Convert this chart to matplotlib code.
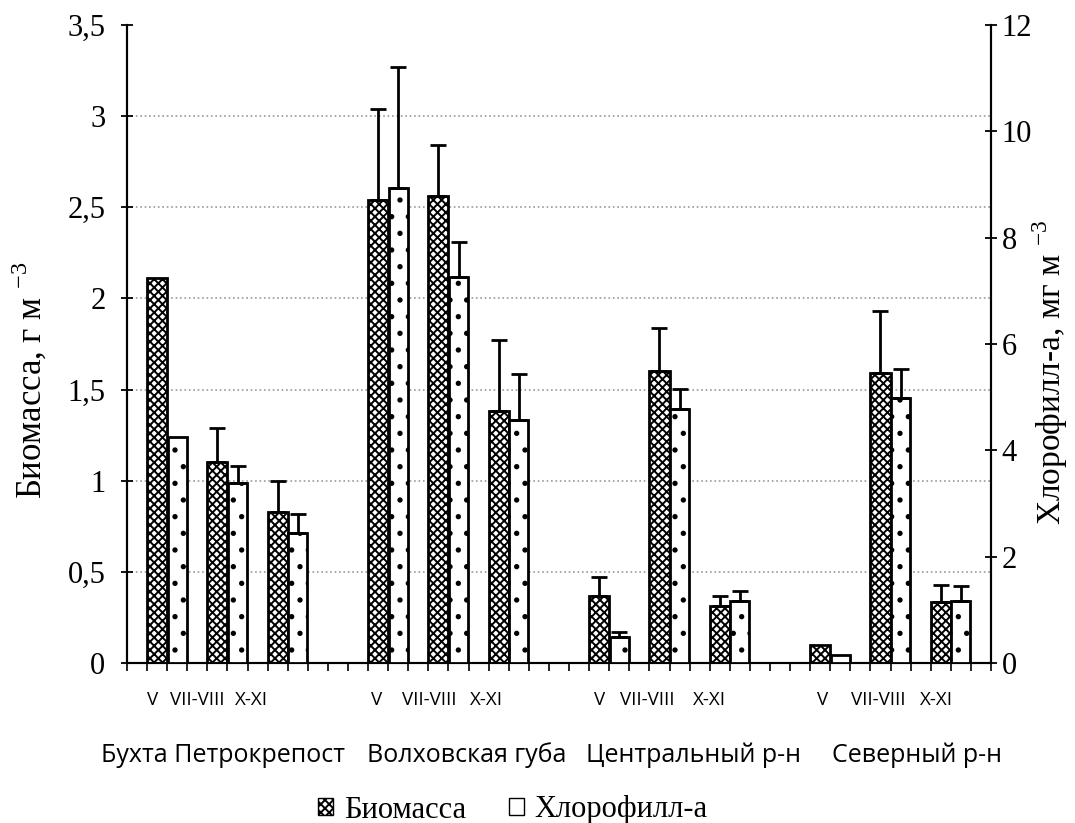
import numpy as np
import matplotlib
matplotlib.use('Agg')
import matplotlib.pyplot as plt
from matplotlib.patches import Patch
from matplotlib.transforms import Bbox, IdentityTransform, TransformedBbox

plt.rcParams['font.family'] = ['Liberation Serif', 'DejaVu Serif']
plt.rcParams['mathtext.fontset'] = 'custom'
plt.rcParams['mathtext.rm'] = 'Liberation Serif'
plt.rcParams['hatch.linewidth'] = 1.4

# data
groups = ['Бухта Петрокрепости', 'Волховская губа', 'Центральный р-н', 'Северный р-н']
seasons = ['V', 'VII-VIII', 'X-XI']
biomass = [2.11, 1.10, 0.83, 2.54, 2.56, 1.38, 0.37, 1.60, 0.31, 0.10, 1.59, 0.335]
biomass_err = [np.nan, 0.19, 0.17, 0.50, 0.28, 0.39, 0.10, 0.24, 0.055, np.nan, 0.34, 0.095]
chl = [4.25, 3.39, 2.45, 8.93, 7.26, 4.57, 0.49, 4.78, 1.17, 0.15, 4.98, 1.17]
chl_err = [np.nan, 0.32, 0.35, 2.28, 0.66, 0.87, 0.09, 0.37, 0.18, np.nan, 0.55, 0.28]

n_slots = 43
group_len = 11
season_slot = [1, 4, 7]

# bar slot positions
xb = np.array([g * group_len + s for g in range(len(groups)) for s in season_slot]) + 0.5
xc = xb + 1

fig = plt.figure(figsize=(10.75, 8.23), dpi=100)
ax = fig.add_axes([127 / 1075, 1 - 663 / 823, (991 - 127) / 1075, (663 - 25) / 823])
ax2 = ax.twinx()

ax.bar(xb, biomass, width=1.0, color='white', edgecolor='black', hatch='xxxx', linewidth=2.0, zorder=3)
ax2.bar(xc, chl, width=0.95, color='white', edgecolor='black', hatch='.', linewidth=2.0, zorder=3)

b = np.array(biomass)
be = np.array(biomass_err)
m = ~np.isnan(be)
ax.errorbar(xb[m], b[m], yerr=[np.zeros(m.sum()), be[m]], fmt='none', ecolor='black',
            elinewidth=2.0, capsize=6, capthick=2.0, zorder=4)
c = np.array(chl)
ce = np.array(chl_err)
m = ~np.isnan(ce)
ax2.errorbar(xc[m], c[m], yerr=[np.zeros(m.sum()), ce[m]], fmt='none', ecolor='black',
             elinewidth=2.0, capsize=6, capthick=2.0, zorder=4)

ax.set_xlim(0, n_slots)
ax.set_ylim(0, 3.5)
ax2.set_ylim(0, 12)
ax.set_yticks(np.arange(0, 3.51, 0.5))
ax.set_yticklabels(['0', '0,5', '1', '1,5', '2', '2,5', '3', '3,5'])
ax2.set_yticks(np.arange(0, 12.1, 2))
ax.set_xticks(np.arange(0, n_slots + 1))
ax.set_xticklabels([])
ax.tick_params(axis='x', direction='out', length=6, width=1.2)
ax.tick_params(axis='y', direction='inout', length=9, width=1.3, labelsize=22, pad=11)
ax2.tick_params(axis='y', direction='inout', length=9, width=1.3, labelsize=22, pad=3)

ax.yaxis.grid(True, color='#999999', linestyle=':', linewidth=1.2, zorder=0)
ax.set_axisbelow(True)
ax.yaxis.get_gridlines()[-1].set_visible(False)

for a in (ax, ax2):
    a.spines['top'].set_visible(False)
    for s in ('left', 'right', 'bottom'):
        a.spines[s].set_linewidth(1.5)

ax.set_ylabel('Биомасса, г м $^{-3}$', fontsize=25)
ax.yaxis.set_label_coords(-0.090, 0.444)
ax2.set_ylabel('Хлорофилл-а, мг м $^{-3}$', fontsize=24)
ax2.yaxis.set_label_coords(1.046, 0.456)

# season labels under each group (slot units, as placed in the original)
season_x = [[1.25, 3.5, 6.2], [12.4, 15.05, 17.9], [23.5, 25.9, 29.0], [34.6, 37.4, 40.3]]
for g in range(len(groups)):
    for s, x in zip(seasons, season_x[g]):
        ax.text(x, -0.058, s, transform=ax.get_xaxis_transform(),
                ha='center', va='center', fontsize=13.5, family=['Open Sans', 'DejaVu Sans'])

# group labels; the first one is cut off at its slot edge as in the original
group_x = [231, 467, 694, 917]
for g, name in enumerate(groups):
    t = fig.text(group_x[g] / 1075, 1 - 755 / 823, name, ha='center', va='center',
                 fontsize=18, family=['Open Sans', 'DejaVu Sans'])
    if g == 0:
        t.set_clip_box(TransformedBbox(Bbox([[0, 0], [346, 823]]), IdentityTransform()))
        t.set_clip_on(True)

handles = [Patch(facecolor='white', edgecolor='black', hatch='xxxx', linewidth=1.0),
           Patch(facecolor='white', edgecolor='black', linewidth=1.0)]
fig.legend(handles, ['Биомасса', 'Хлорофилл-а'], loc='center',
           bbox_to_anchor=(513 / 1075, 1 - 810 / 823), ncol=2, frameon=False,
           fontsize=22, handlelength=0.5, handleheight=0.5, handletextpad=0.35,
           columnspacing=1.4)

fig.savefig('out.png', dpi=100)
